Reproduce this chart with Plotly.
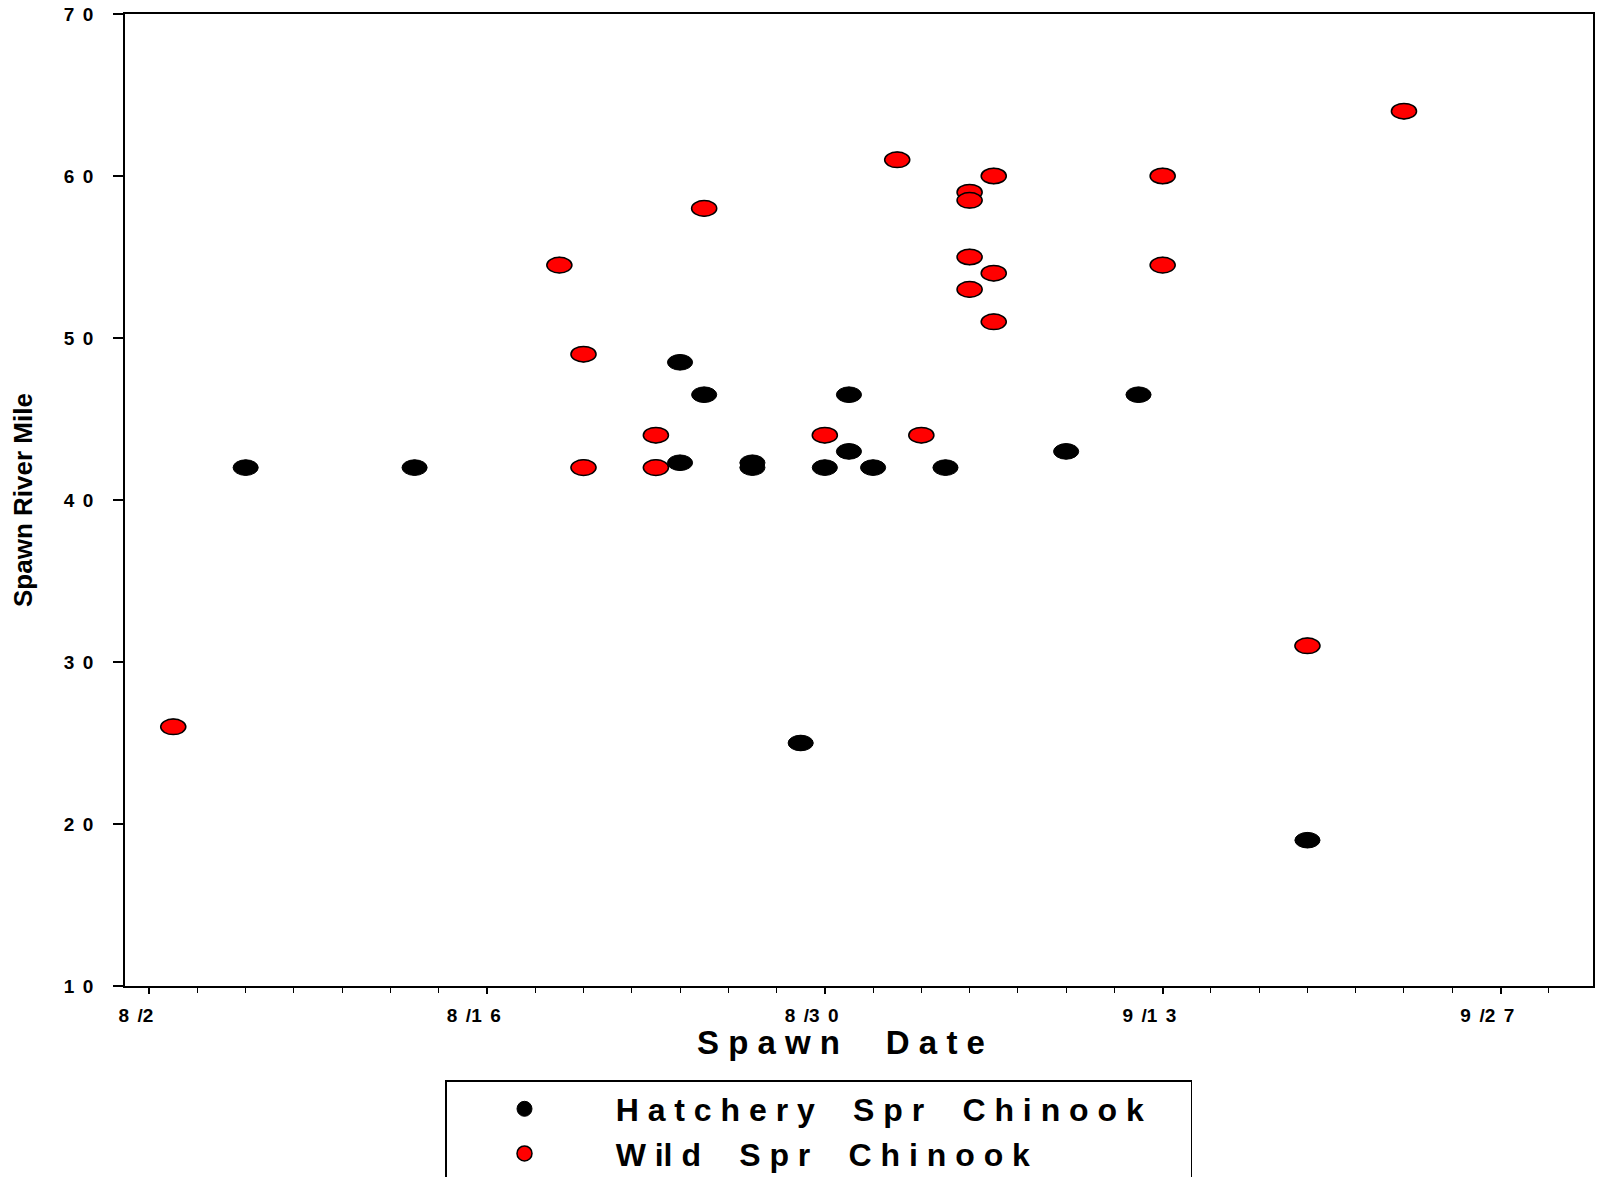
import pandas as pd
import plotly.graph_objects as go

YEAR = 2001

# Spawn observations: date (month/day) and river mile
hatchery_dates = ["8/6", "8/13", "8/24", "8/24", "8/25", "8/27", "8/27", "8/29",
                  "8/30", "8/31", "8/31", "9/1", "9/4", "9/9", "9/12", "9/19"]
hatchery_miles = [42, 42, 48.5, 42.3, 46.5, 42.3, 42, 25,
                  42, 46.5, 43, 42, 42, 43, 46.5, 19]

wild_dates = ["8/3", "8/19", "8/20", "8/20", "8/23", "8/23", "8/25", "8/30",
              "9/2", "9/3", "9/5", "9/5", "9/5", "9/5", "9/6", "9/6", "9/6",
              "9/13", "9/13", "9/19", "9/23"]
wild_miles = [26, 54.5, 49, 42, 44, 42, 58, 44,
              61, 44, 59, 58.5, 55, 53, 60, 54, 51,
              60, 54.5, 31, 64]

x_tick_labels = ["8/2", "8/16", "8/30", "9/13", "9/27"]
y_tick_vals = [10, 20, 30, 40, 50, 60, 70]

HAIR = "\u200a"
NBSP = "\u00a0"
TICK_GAP = " " + HAIR + HAIR


def track(words, gap=" ", word_gap="   "):
    """Letter-spaced text: glyph clusters separated by gap, words by word_gap."""
    return word_gap.join(gap.join(w) for w in words)


def date_tick(lbl):
    # slash stays attached to the day digits; trailing padding sets the label left of its tick
    m, d = lbl.split("/")
    return TICK_GAP.join(list(m) + ["/" + d[0]] + list(d[1:])) + NBSP * 5


def to_ts(md):
    m, d = md.split("/")
    return pd.Timestamp(year=YEAR, month=int(m), day=int(d))


FONT = "Liberation Sans, Arial, sans-serif"
LEAD = NBSP * 8
TAIL = NBSP * 4 + HAIR * 2
LEGEND_WORD_GAP = "    " + HAIR

h_x = [to_ts(d) for d in hatchery_dates]
w_x = [to_ts(d) for d in wild_dates]

fig = go.Figure()
fig.add_trace(go.Scatter(
    x=h_x, y=hatchery_miles, mode="markers",
    name=LEAD + track(["Hatchery", "Spr", "Chinook"], word_gap=LEGEND_WORD_GAP) + TAIL,
    marker=dict(symbol="circle", size=15, color="black",
                line=dict(color="black", width=1)),
))
fig.add_trace(go.Scatter(
    x=w_x, y=wild_miles, mode="markers",
    name=LEAD + track([["W", "il", "d"], "Spr", "Chinook"], word_gap=LEGEND_WORD_GAP),
    marker=dict(symbol="circle", size=15, color="#ff0000",
                line=dict(color="black", width=1.5)),
))

# Elliptical point glyphs in data coordinates (half-width ~0.52 day, half-height ~0.48 mile)
half_w = pd.Timedelta(hours=12.5)
half_h = 0.48
shapes = []
for xs, ys, fill, lw in [(h_x, hatchery_miles, "black", 1),
                         (w_x, wild_miles, "#ff0000", 1.5)]:
    for xv, yv in zip(xs, ys):
        shapes.append(dict(
            type="circle", xref="x", yref="y", layer="above",
            x0=(xv - half_w).strftime("%Y-%m-%d %H:%M"),
            x1=(xv + half_w).strftime("%Y-%m-%d %H:%M"),
            y0=yv - half_h, y1=yv + half_h,
            fillcolor=fill, line=dict(color="black", width=lw),
        ))

fig.update_layout(
    width=1600, height=1177,
    paper_bgcolor="white", plot_bgcolor="white",
    margin=dict(l=125, r=7, t=14, b=191, autoexpand=False),
    font=dict(family=FONT, color="black"),
    shapes=shapes,
    showlegend=True,
    legend=dict(
        x=(445 - 125) / 1468, y=-(1080 - 986) / 972,
        xanchor="left", yanchor="top",
        bordercolor="black", borderwidth=1.5, bgcolor="white",
        font=dict(size=32, family=FONT, weight="bold"),
        itemwidth=30, indentation=58, tracegroupgap=0,
    ),
    annotations=[
        dict(text=track(["Spawn", "Date"], word_gap="     "),
             xref="paper", yref="paper",
             x=0.4877, y=-0.0586, xanchor="center", yanchor="middle",
             showarrow=False, font=dict(size=33, family=FONT, weight="bold")),
        dict(text="Spawn River Mile", xref="paper", yref="paper",
             x=-0.0695, y=0.5, xanchor="center", yanchor="middle",
             textangle=-90, showarrow=False,
             font=dict(size=26, family=FONT, weight="bold")),
    ],
)

fig.update_xaxes(
    type="date",
    range=[pd.Timestamp(year=YEAR, month=8, day=1).strftime("%Y-%m-%d"),
           pd.Timestamp(year=YEAR, month=9, day=30, hour=20).strftime("%Y-%m-%d %H:%M")],
    tickmode="array",
    tickvals=[to_ts(d) for d in x_tick_labels],
    ticktext=[date_tick(t) for t in x_tick_labels],
    ticks="outside", ticklen=6, tickwidth=1.5, tickcolor="black",
    minor=dict(ticks="outside", ticklen=5, tickwidth=1.2, tickcolor="black",
               dtick=2 * 86400000, tick0=to_ts("8/2").strftime("%Y-%m-%d"),
               showgrid=False),
    showline=True, linecolor="black", linewidth=1.5, mirror=True,
    showgrid=False, zeroline=False,
    tickfont=dict(size=19, family=FONT, weight="bold"),
    ticklabelstandoff=5,
)
fig.update_yaxes(
    range=[10, 70],
    tickmode="array", tickvals=y_tick_vals,
    ticktext=[track([str(v)], gap=TICK_GAP) for v in y_tick_vals],
    ticks="outside", ticklen=10, tickwidth=1.5, tickcolor="black",
    showline=True, linecolor="black", linewidth=1.5, mirror=True,
    showgrid=False, zeroline=False,
    tickfont=dict(size=19, family=FONT, weight="bold"),
    ticklabelstandoff=16,
)

fig.write_html("out.html")
